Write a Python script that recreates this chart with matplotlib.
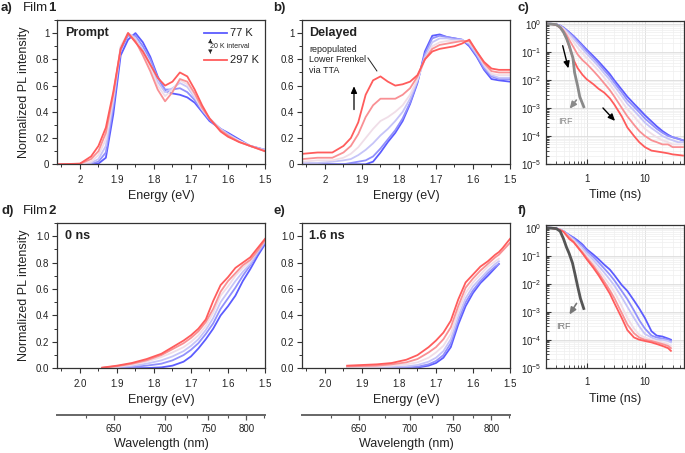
import numpy as np
import matplotlib
matplotlib.use('Agg')
import matplotlib.pyplot as plt
from matplotlib.colors import LinearSegmentedColormap
from matplotlib.ticker import MultipleLocator, FuncFormatter, LogLocator, NullFormatter, FixedLocator

plt.rcParams['font.family'] = ['Liberation Sans', 'DejaVu Sans']
plt.rcParams['mathtext.default'] = 'regular'

# --- data ---
temps = [77, 117, 157, 197, 257, 297]

# a) Film 1, prompt spectra
E_a = [2.06, 2.00, 1.97, 1.95, 1.93, 1.91, 1.89, 1.87, 1.85, 1.83, 1.81, 1.79,
       1.77, 1.75, 1.73, 1.71, 1.69, 1.67, 1.65, 1.62, 1.60, 1.57, 1.54, 1.50]
prompt_1 = [
    [0, 0, 0, 0.005, 0.05, 0.38, 0.83, 0.95, 1.0, 0.93, 0.82, 0.67, 0.56, 0.54, 0.53, 0.51, 0.47, 0.40, 0.33, 0.27, 0.24, 0.19, 0.14, 0.11],
    [0, 0, 0.005, 0.02, 0.09, 0.44, 0.87, 0.98, 0.98, 0.90, 0.80, 0.66, 0.57, 0.57, 0.58, 0.55, 0.49, 0.41, 0.34, 0.27, 0.23, 0.18, 0.14, 0.11],
    [0, 0, 0.01, 0.04, 0.14, 0.48, 0.89, 1.0, 0.96, 0.87, 0.77, 0.63, 0.55, 0.58, 0.62, 0.59, 0.51, 0.42, 0.35, 0.27, 0.23, 0.18, 0.14, 0.11],
    [0, 0.002, 0.02, 0.07, 0.19, 0.51, 0.90, 1.0, 0.95, 0.85, 0.74, 0.60, 0.52, 0.57, 0.64, 0.61, 0.52, 0.42, 0.35, 0.26, 0.22, 0.18, 0.14, 0.10],
    [0, 0.004, 0.04, 0.10, 0.24, 0.53, 0.88, 1.0, 0.94, 0.83, 0.71, 0.57, 0.48, 0.55, 0.65, 0.63, 0.54, 0.43, 0.35, 0.26, 0.22, 0.17, 0.14, 0.10],
    [0, 0.005, 0.06, 0.14, 0.28, 0.55, 0.88, 1.0, 0.93, 0.86, 0.76, 0.66, 0.60, 0.63, 0.70, 0.67, 0.57, 0.45, 0.35, 0.25, 0.21, 0.17, 0.14, 0.10],
]

# b) Film 1, delayed spectra
E_b = [2.06, 2.02, 1.98, 1.95, 1.93, 1.91, 1.89, 1.87, 1.85, 1.83, 1.81, 1.79, 1.77,
       1.75, 1.73, 1.71, 1.69, 1.67, 1.65, 1.63, 1.61, 1.59, 1.57, 1.55, 1.53, 1.50]
delayed_1 = [
    [0, 0, 0, 0, 0, 0, 0, 0.02, 0.09, 0.17, 0.24, 0.33, 0.46, 0.62, 0.86, 0.98, 0.99, 0.97, 0.96, 0.95, 0.90, 0.82, 0.72, 0.65, 0.64, 0.63],
    [0, 0, 0, 0, 0.01, 0.02, 0.03, 0.06, 0.12, 0.19, 0.26, 0.35, 0.47, 0.63, 0.84, 0.96, 0.98, 0.97, 0.96, 0.95, 0.91, 0.83, 0.73, 0.67, 0.65, 0.65],
    [0.01, 0.01, 0.02, 0.03, 0.04, 0.07, 0.11, 0.16, 0.22, 0.27, 0.33, 0.40, 0.50, 0.64, 0.82, 0.93, 0.96, 0.96, 0.95, 0.95, 0.92, 0.84, 0.75, 0.68, 0.66, 0.66],
    [0.02, 0.03, 0.03, 0.05, 0.08, 0.13, 0.20, 0.27, 0.33, 0.36, 0.40, 0.45, 0.53, 0.65, 0.80, 0.90, 0.93, 0.94, 0.94, 0.94, 0.93, 0.86, 0.76, 0.69, 0.68, 0.68],
    [0.04, 0.05, 0.05, 0.09, 0.14, 0.23, 0.36, 0.45, 0.50, 0.50, 0.50, 0.53, 0.58, 0.67, 0.80, 0.88, 0.91, 0.92, 0.93, 0.94, 0.94, 0.86, 0.77, 0.71, 0.70, 0.70],
    [0.08, 0.09, 0.09, 0.14, 0.20, 0.32, 0.53, 0.64, 0.67, 0.63, 0.60, 0.61, 0.63, 0.68, 0.80, 0.86, 0.88, 0.89, 0.90, 0.92, 0.95, 0.86, 0.78, 0.73, 0.72, 0.72],
]

# c) Film 1, decays
t_c = [0.2, 0.25, 0.3, 0.35, 0.4, 0.45, 0.5, 0.6, 0.7, 0.85, 1.0, 1.3, 1.6, 2.0,
       2.5, 3.0, 4.0, 5.0, 6.5, 8.0, 10, 13, 16, 20, 25, 30, 37, 45]
decay_1 = [
    [1, 0.99, 0.95, 0.86, 0.73, 0.6, 0.5, 0.36, 0.26, 0.17, 0.12, 0.07, 0.045, 0.027, 0.016, 0.0095, 0.0045, 0.0025, 0.0014, 0.0009, 0.00055, 0.00033, 0.00022, 0.00015, 0.00011, 0.00009, 0.00008, 0.00007],
    [1, 0.99, 0.95, 0.85, 0.71, 0.58, 0.48, 0.34, 0.24, 0.155, 0.105, 0.06, 0.038, 0.022, 0.013, 0.0078, 0.0036, 0.0019, 0.0011, 0.0007, 0.00042, 0.00026, 0.00018, 0.00013, 0.0001, 0.00009, 0.00008, 0.00007],
    [1, 0.99, 0.94, 0.83, 0.68, 0.54, 0.43, 0.29, 0.2, 0.125, 0.085, 0.048, 0.03, 0.017, 0.01, 0.006, 0.0027, 0.0014, 0.0008, 0.0005, 0.0003, 0.00019, 0.00014, 0.0001, 0.00008, 0.00007, 0.00006, 0.00006],
    [1, 0.98, 0.93, 0.81, 0.64, 0.48, 0.36, 0.22, 0.14, 0.088, 0.06, 0.034, 0.021, 0.012, 0.0068, 0.004, 0.0017, 0.0009, 0.0005, 0.0003, 0.00018, 0.00012, 0.00009, 0.00007, 0.00006, 0.00005, 0.00005, 0.00005],
    [1, 0.98, 0.92, 0.79, 0.58, 0.4, 0.27, 0.14, 0.08, 0.05, 0.037, 0.021, 0.013, 0.0075, 0.0043, 0.0025, 0.001, 0.0005, 0.00025, 0.00015, 0.0001, 0.00007, 0.00006, 0.00005, 0.00005, 0.00004, 0.00004, 0.00004],
    [1, 0.97, 0.9, 0.72, 0.5, 0.3, 0.15, 0.05, 0.026, 0.015, 0.0105, 0.007, 0.0048, 0.0035, 0.0022, 0.0013, 0.0005, 0.0002, 0.0001, 0.00006, 0.00004, 0.00003, 0.000028, 0.000026, 0.000024, 0.000022, 0.000021, 0.00002],
]
t_irf_c = [0.2, 0.3, 0.35, 0.4, 0.45, 0.5, 0.58, 0.62, 0.7, 0.76, 0.89]
irf_c = [1, 0.93, 0.75, 0.5, 0.3, 0.17, 0.06, 0.018, 0.006, 0.0025, 0.0011]

# d) Film 2, 0 ns spectra
E_d = [1.94, 1.90, 1.86, 1.82, 1.78, 1.75, 1.72, 1.70, 1.68, 1.66, 1.64, 1.62,
       1.60, 1.58, 1.56, 1.54, 1.52, 1.50]
spec0_2 = [
    [0, 0, 0, 0.002, 0.007, 0.02, 0.05, 0.09, 0.15, 0.22, 0.30, 0.40, 0.47, 0.55, 0.66, 0.75, 0.85, 0.94],
    [0.001, 0.005, 0.01, 0.02, 0.035, 0.06, 0.10, 0.14, 0.19, 0.26, 0.34, 0.45, 0.53, 0.61, 0.70, 0.78, 0.87, 0.95],
    [0.002, 0.008, 0.018, 0.035, 0.06, 0.09, 0.13, 0.17, 0.22, 0.29, 0.38, 0.50, 0.58, 0.66, 0.73, 0.79, 0.88, 0.96],
    [0.003, 0.012, 0.027, 0.05, 0.085, 0.12, 0.16, 0.20, 0.25, 0.32, 0.42, 0.55, 0.62, 0.70, 0.76, 0.81, 0.89, 0.97],
    [0.004, 0.016, 0.034, 0.06, 0.10, 0.145, 0.19, 0.23, 0.28, 0.35, 0.45, 0.58, 0.66, 0.72, 0.78, 0.82, 0.89, 0.97],
    [0.005, 0.02, 0.04, 0.07, 0.11, 0.16, 0.21, 0.25, 0.30, 0.37, 0.51, 0.63, 0.69, 0.76, 0.80, 0.84, 0.91, 0.98],
]

# e) Film 2, 1.6 ns spectra
E_e = [1.94, 1.90, 1.86, 1.82, 1.78, 1.75, 1.72, 1.70, 1.68, 1.66, 1.64, 1.62,
       1.60, 1.58, 1.56, 1.54, 1.53, 1.52, 1.50]
spec16_2 = [
    [0, 0, 0, 0, 0.002, 0.006, 0.02, 0.04, 0.08, 0.16, 0.33, 0.47, 0.57, 0.645, 0.70, 0.76, 0.79, np.nan, np.nan],
    [0, 0, 0, 0.002, 0.006, 0.012, 0.03, 0.055, 0.10, 0.19, 0.36, 0.50, 0.59, 0.66, 0.72, 0.77, 0.79, np.nan, np.nan],
    [0.005, 0.005, 0.006, 0.01, 0.015, 0.025, 0.05, 0.08, 0.13, 0.22, 0.39, 0.53, 0.62, 0.68, 0.74, 0.79, 0.81, np.nan, np.nan],
    [0.01, 0.01, 0.012, 0.02, 0.03, 0.045, 0.08, 0.12, 0.17, 0.26, 0.43, 0.57, 0.65, 0.71, 0.77, 0.81, 0.83, np.nan, np.nan],
    [0.015, 0.017, 0.02, 0.03, 0.045, 0.07, 0.12, 0.16, 0.22, 0.31, 0.47, 0.61, 0.68, 0.74, 0.79, 0.84, 0.86, 0.89, 0.95],
    [0.02, 0.025, 0.03, 0.04, 0.065, 0.10, 0.16, 0.21, 0.27, 0.36, 0.52, 0.65, 0.71, 0.77, 0.81, 0.86, 0.88, 0.91, 0.98],
]

# f) Film 2, decays
t_f = [0.2, 0.25, 0.3, 0.35, 0.4, 0.5, 0.6, 0.7, 0.85, 1.0, 1.3, 1.6, 2.0, 2.5,
       3.0, 4.0, 5.0, 6.5, 8.0, 10, 13, 16, 20, 25, 28]
decay_2 = [
    [1, 0.99, 0.95, 0.85, 0.75, 0.55, 0.44, 0.35, 0.25, 0.17, 0.11, 0.075, 0.048, 0.032, 0.02, 0.009, 0.0055, 0.0025, 0.0013, 0.0006, 0.0002, 0.00014, 0.00013, 0.00011, 0.0001],
    [1, 0.99, 0.95, 0.85, 0.75, 0.53, 0.41, 0.31, 0.22, 0.15, 0.09, 0.058, 0.035, 0.021, 0.013, 0.0055, 0.0028, 0.0011, 0.0005, 0.00025, 0.00014, 0.00012, 0.00011, 0.0001, 0.00009],
    [1, 0.98, 0.94, 0.85, 0.74, 0.5, 0.37, 0.27, 0.18, 0.12, 0.07, 0.043, 0.025, 0.014, 0.0085, 0.0033, 0.0015, 0.0006, 0.0003, 0.00016, 0.00012, 0.0001, 0.0001, 0.00009, 0.00008],
    [1, 0.98, 0.93, 0.84, 0.73, 0.48, 0.34, 0.24, 0.15, 0.1, 0.055, 0.032, 0.017, 0.009, 0.005, 0.0016, 0.0006, 0.00025, 0.00015, 0.00012, 0.0001, 0.00009, 0.00008, 0.00007, 0.00006],
    [1, 0.97, 0.92, 0.83, 0.72, 0.46, 0.31, 0.21, 0.13, 0.085, 0.044, 0.024, 0.012, 0.0058, 0.003, 0.0009, 0.00035, 0.00017, 0.00012, 0.0001, 0.00009, 0.00008, 0.00007, 0.00006, 0.00005],
    [1, 0.97, 0.92, 0.83, 0.72, 0.4, 0.3, 0.2, 0.12, 0.075, 0.037, 0.02, 0.0095, 0.0044, 0.002, 0.0006, 0.00022, 0.00012, 0.0001, 0.00009, 0.00008, 0.00007, 0.00006, 0.00005, 0.00004],
]
t_irf_f = [0.2, 0.3, 0.35, 0.4, 0.45, 0.5, 0.57, 0.63, 0.7, 0.78, 0.89]
irf_f = [1, 0.93, 0.75, 0.4, 0.2, 0.12, 0.055, 0.022, 0.008, 0.003, 0.0013]

# --- styling ---
W, H = 685, 453
TXT = '#222222'
cmap = LinearSegmentedColormap.from_list('temp', ['#5c5cff', '#eeebf6', '#ff5c5c'])

def tcolor(T):
    return cmap((T - 77) / 220)

fig = plt.figure(figsize=(W / 100, H / 100), dpi=100)

def px_axes(left, top, right, bottom):
    return fig.add_axes([left / W, 1 - bottom / H, (right - left) / W, (bottom - top) / H])

def style_spectrum(ax, short_labels):
    ax.set_xlim(2.062, 1.5)
    ax.set_ylim(0, 1.1)
    ax.xaxis.set_major_locator(FixedLocator([2.0, 1.9, 1.8, 1.7, 1.6, 1.5]))
    ax.xaxis.set_minor_locator(MultipleLocator(0.05))
    ax.yaxis.set_major_locator(MultipleLocator(0.2))
    ax.yaxis.set_minor_locator(MultipleLocator(0.1))
    if short_labels:
        fmt = FuncFormatter(lambda v, p: f'{v:g}')
        ax.xaxis.set_major_formatter(fmt)
        ax.yaxis.set_major_formatter(fmt)
    else:
        ax.xaxis.set_major_formatter(FuncFormatter(lambda v, p: f'{v:.1f}'))
        ax.yaxis.set_major_formatter(FuncFormatter(lambda v, p: f'{v:.1f}'))
    ax.tick_params(which='both', direction='out', colors='#333333', labelcolor=TXT, labelsize=7)
    ax.tick_params(which='major', length=3.5, width=0.8)
    ax.tick_params(which='minor', length=2, width=0.7)
    ax.tick_params(axis='x', pad=4)
    ax.tick_params(axis='y', pad=2)
    for s in ax.spines.values():
        s.set_color('#333333')
        s.set_linewidth(0.9)
    ax.set_xlabel('Energy (eV)', fontsize=9, color=TXT, labelpad=4)

def style_decay(ax, xmax):
    ax.set_xscale('log')
    ax.set_yscale('log')
    ax.set_xlim(0.2, xmax)
    ax.set_ylim(1e-5, 1.25)
    ax.xaxis.set_major_locator(FixedLocator([1, 10]))
    ax.xaxis.set_major_formatter(FuncFormatter(lambda v, p: f'{v:g}'))
    ax.xaxis.set_minor_locator(LogLocator(base=10, subs=np.arange(2, 10)))
    ax.xaxis.set_minor_formatter(NullFormatter())
    ax.yaxis.set_major_locator(FixedLocator([1e-5, 1e-4, 1e-3, 1e-2, 1e-1, 1]))
    ax.yaxis.set_minor_locator(LogLocator(base=10, subs=np.arange(2, 10), numticks=20))
    ax.yaxis.set_minor_formatter(NullFormatter())
    ax.grid(which='major', color='#dcdcdc', lw=0.6)
    ax.grid(which='minor', color='#efefef', lw=0.5)
    ax.set_axisbelow(True)
    ax.tick_params(which='both', direction='in', colors='#333333', labelcolor=TXT, labelsize=7)
    ax.tick_params(which='major', length=3.5, width=0.8)
    ax.tick_params(which='minor', length=2, width=0.6)
    ax.tick_params(axis='x', pad=7)
    ax.tick_params(axis='y', pad=3)
    for s in ax.spines.values():
        s.set_color('#333333')
        s.set_linewidth(0.9)
    ax.set_xlabel('Time (ns)', fontsize=9, color=TXT, labelpad=4)

def add_wavelength_axis(ax):
    sec = ax.secondary_xaxis(-0.32, functions=(lambda e: 1240 / np.asarray(e, float),
                                               lambda w: 1240 / np.asarray(w, float)))
    sec.set_xticks([650, 700, 750, 800])
    sec.xaxis.set_minor_locator(FixedLocator([625, 675, 725, 775, 825]))
    sec.tick_params(which='both', direction='out', colors='#555555', labelcolor=TXT, labelsize=7, pad=3)
    sec.tick_params(which='major', length=3.5, width=0.9)
    sec.tick_params(which='minor', length=2, width=0.8)
    sec.spines['bottom'].set_color('#666666')
    sec.spines['bottom'].set_linewidth(1.4)
    sec.set_xlabel('Wavelength (nm)', fontsize=9, color=TXT, labelpad=3)

# --- a) prompt ---
ax_a = px_axes(57, 20, 265, 164.3)
for T, y in zip(temps, prompt_1):
    ax_a.plot(E_a, y, color=tcolor(T), lw=1.3)
style_spectrum(ax_a, True)
ax_a.set_ylabel('Normalized PL intensity', fontsize=9, color=TXT, labelpad=4)
ax_a.text(0.038, 0.91, 'Prompt', transform=ax_a.transAxes, fontsize=9, fontweight='bold', color=TXT, va='center')
# legend
ax_a.plot([0.707, 0.817], [0.91, 0.91], transform=ax_a.transAxes, color=tcolor(77), lw=1.3)
ax_a.plot([0.707, 0.817], [0.723, 0.723], transform=ax_a.transAxes, color=tcolor(297), lw=1.3)
ax_a.text(0.83, 0.91, '77 K', transform=ax_a.transAxes, fontsize=8, color=TXT, va='center')
ax_a.text(0.83, 0.723, '297 K', transform=ax_a.transAxes, fontsize=8, color=TXT, va='center')
ax_a.text(0.735, 0.816, '20 K interval', transform=ax_a.transAxes, fontsize=5, color=TXT, va='center')
ax_a.annotate('', xy=(0.737, 0.885), xytext=(0.737, 0.845), xycoords='axes fraction',
              arrowprops=dict(arrowstyle='-|>,head_width=0.12,head_length=0.2', color=TXT, lw=0.5))
ax_a.annotate('', xy=(0.737, 0.75), xytext=(0.737, 0.79), xycoords='axes fraction',
              arrowprops=dict(arrowstyle='-|>,head_width=0.12,head_length=0.2', color=TXT, lw=0.5))

# --- b) delayed ---
ax_b = px_axes(302, 20, 510, 164.3)
for T, y in zip(temps, delayed_1):
    ax_b.plot(E_b, y, color=tcolor(T), lw=1.3)
style_spectrum(ax_b, True)
ax_b.text(0.034, 0.91, 'Delayed', transform=ax_b.transAxes, fontsize=9, fontweight='bold', color=TXT, va='center')
ax_b.text(0.034, 0.83, 'repopulated\nLower Frenkel\nvia TTA', transform=ax_b.transAxes,
          fontsize=6.5, color=TXT, va='top', linespacing=1.25)
ax_b.plot([0.317, 0.36], [0.737, 0.647], transform=ax_b.transAxes, color=TXT, lw=0.7)
ax_b.annotate('', xy=(0.25, 0.56), xytext=(0.25, 0.36), xycoords='axes fraction',
              arrowprops=dict(arrowstyle='-|>,head_width=0.18,head_length=0.4', color='black', lw=0.9))

# --- c) decays film 1 ---
ax_c = px_axes(546, 21, 684, 164)
for T, y in zip(temps, decay_1):
    ax_c.plot(t_c, y, color=tcolor(T), lw=1.3)
ax_c.plot(t_irf_c, irf_c, color='#8a8a8a', lw=2)
style_decay(ax_c, 47)
ax_c.annotate('', xy=(0.167, 0.65), xytext=(0.116, 0.846), xycoords='axes fraction',
              arrowprops=dict(arrowstyle='-|>,head_width=0.18,head_length=0.4', color='black', lw=1))
ax_c.annotate('', xy=(0.514, 0.287), xytext=(0.399, 0.406), xycoords='axes fraction',
              arrowprops=dict(arrowstyle='-|>,head_width=0.18,head_length=0.4', color='black', lw=1))
ax_c.annotate('', xy=(0.159, 0.371), xytext=(0.232, 0.462), xycoords='axes fraction',
              arrowprops=dict(arrowstyle='-|>,head_width=0.18,head_length=0.4', color='#8a8a8a', lw=1.2))
ax_c.text(0.138, 0.30, 'IRF', transform=ax_c.transAxes, fontsize=6.5, color='#8a8a8a', ha='center', va='center')

# --- d) 0 ns film 2 ---
ax_d = px_axes(57, 223, 265, 368.3)
for T, y in zip(temps, spec0_2):
    ax_d.plot(E_d, y, color=tcolor(T), lw=1.3)
style_spectrum(ax_d, False)
ax_d.set_ylabel('Normalized PL intensity', fontsize=9, color=TXT, labelpad=4)
ax_d.text(0.038, 0.91, '0 ns', transform=ax_d.transAxes, fontsize=9, fontweight='bold', color=TXT, va='center')
add_wavelength_axis(ax_d)

# --- e) 1.6 ns film 2 ---
ax_e = px_axes(302, 223, 510, 368.3)
for T, y in zip(temps, spec16_2):
    ax_e.plot(E_e, y, color=tcolor(T), lw=1.3)
style_spectrum(ax_e, False)
ax_e.text(0.034, 0.91, '1.6 ns', transform=ax_e.transAxes, fontsize=9, fontweight='bold', color=TXT, va='center')
add_wavelength_axis(ax_e)

# --- f) decays film 2 ---
ax_f = px_axes(546, 225, 684, 367.7)
for T, y in zip(temps, decay_2):
    ax_f.plot(t_f, y, color=tcolor(T), lw=1.3)
ax_f.plot(t_irf_f, irf_f, color='#555555', lw=2)
style_decay(ax_f, 47)
ax_f.annotate('', xy=(0.159, 0.356), xytext=(0.232, 0.467), xycoords='axes fraction',
              arrowprops=dict(arrowstyle='-|>,head_width=0.18,head_length=0.4', color='#777777', lw=1.2))
ax_f.text(0.123, 0.29, 'IRF', transform=ax_f.transAxes, fontsize=6.5, color='#777777', ha='center', va='center')

# --- panel labels ---
def panel_label(x, y, s):
    fig.text(x / W, 1 - y / H, s, fontsize=9.5, fontweight='bold', color=TXT, va='center')

panel_label(1, 8, 'a)')
panel_label(273, 8, 'b)')
panel_label(518, 8, 'c)')
panel_label(1, 211, 'd)')
panel_label(273, 211, 'e)')
panel_label(518, 211, 'f)')
for y, num in [(8, '1'), (211, '2')]:
    fig.text(23 / W, 1 - y / H, 'Film', fontsize=9.5, color=TXT, va='center')
    fig.text(48 / W, 1 - y / H, num, fontsize=9.5, fontweight='bold', color=TXT, va='center')

fig.savefig('out.png', dpi=100)
